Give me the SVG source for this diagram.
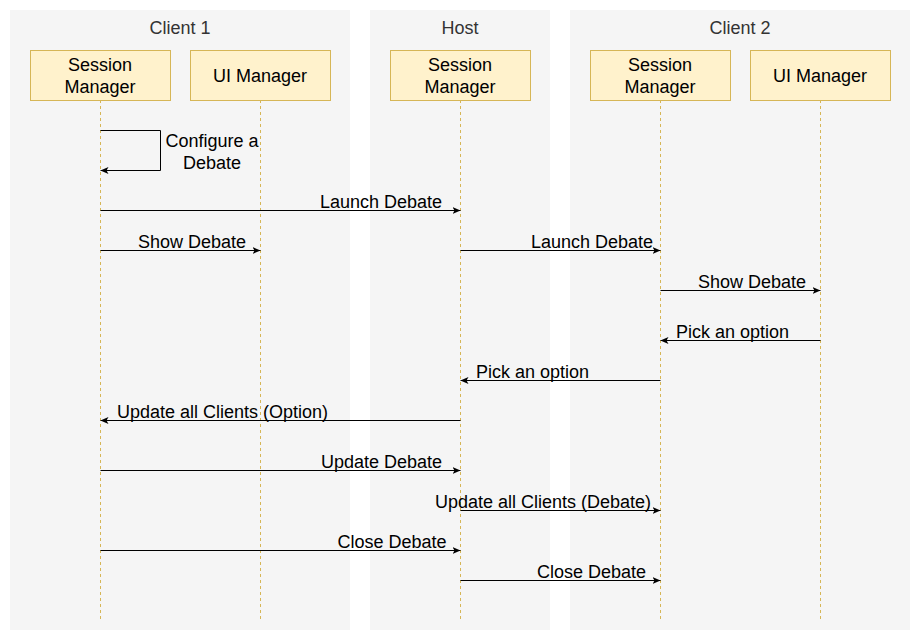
<svg xmlns="http://www.w3.org/2000/svg" width="920" height="640" viewBox="0 0 920 640">
<defs>
<style>
.panel{fill:#f5f5f5;stroke:none}
.title{font-family:"Liberation Sans",Arial,sans-serif;font-size:18px;fill:#333333;text-anchor:middle}
.box{fill:#fff2cc;stroke:#d6b656;stroke-width:1}
.bt{font-family:"Liberation Sans",Arial,sans-serif;font-size:18px;fill:#000000;text-anchor:middle}
.life{stroke:#d6b656;stroke-width:1;stroke-dasharray:3,3;fill:none}
.msg{stroke:#000000;stroke-width:1;fill:none;marker-end:url(#arr)}
.lbl{font-family:"Liberation Sans",Arial,sans-serif;font-size:18px;fill:#000000}
</style>
<marker id="arr" viewBox="0 0 8 8" refX="8" refY="4" markerWidth="8" markerHeight="8" markerUnits="userSpaceOnUse" orient="auto">
<path d="M0,0.5 L8,4 L0,7.5 L2,4 Z" fill="#000000"/>
</marker>
</defs>
<rect width="920" height="640" fill="#ffffff"/>
<g id="panel-client1"><rect class="panel" x="10" y="10" width="340" height="620"/><text class="title" x="180" y="34">Client 1</text></g>
<g id="panel-host"><rect class="panel" x="370" y="10" width="180" height="620"/><text class="title" x="460" y="34">Host</text></g>
<g id="panel-client2"><rect class="panel" x="570" y="10" width="340" height="620"/><text class="title" x="740" y="34">Client 2</text></g>
<g id="c1-session">
<line class="life" x1="100.5" y1="100" x2="100.5" y2="620"/>
<rect class="box" x="30.5" y="50.5" width="140" height="50"/>
<text class="bt" x="100" y="71">Session</text><text class="bt" x="100" y="93">Manager</text>
</g>
<g id="c1-ui">
<line class="life" x1="260.5" y1="100" x2="260.5" y2="620"/>
<rect class="box" x="190.5" y="50.5" width="140" height="50"/>
<text class="bt" x="260" y="82">UI Manager</text>
</g>
<g id="host-session">
<line class="life" x1="460.5" y1="100" x2="460.5" y2="620"/>
<rect class="box" x="390.5" y="50.5" width="140" height="50"/>
<text class="bt" x="460" y="71">Session</text><text class="bt" x="460" y="93">Manager</text>
</g>
<g id="c2-session">
<line class="life" x1="660.5" y1="100" x2="660.5" y2="620"/>
<rect class="box" x="590.5" y="50.5" width="140" height="50"/>
<text class="bt" x="660" y="71">Session</text><text class="bt" x="660" y="93">Manager</text>
</g>
<g id="c2-ui">
<line class="life" x1="820.5" y1="100" x2="820.5" y2="620"/>
<rect class="box" x="750.5" y="50.5" width="140" height="50"/>
<text class="bt" x="820" y="82">UI Manager</text>
</g>
<g id="connectors">
<path class="msg" d="M100.5,130.5 L160.5,130.5 L160.5,170.5 L100.5,170.5"/>
<text class="lbl" x="212" y="147" text-anchor="middle">Configure a</text>
<text class="lbl" x="212" y="169" text-anchor="middle">Debate</text>
<line class="msg" x1="100.5" y1="210.5" x2="460.5" y2="210.5"/>
<text class="lbl" x="442" y="207.5" text-anchor="end">Launch Debate</text>
<line class="msg" x1="100.5" y1="250.5" x2="260.5" y2="250.5"/>
<text class="lbl" x="138" y="247.5">Show Debate</text>
<line class="msg" x1="460.5" y1="250.5" x2="660.5" y2="250.5"/>
<text class="lbl" x="531" y="247.5">Launch Debate</text>
<line class="msg" x1="660.5" y1="290.5" x2="820.5" y2="290.5"/>
<text class="lbl" x="698" y="287.5">Show Debate</text>
<line class="msg" x1="820.5" y1="340.5" x2="660.5" y2="340.5"/>
<text class="lbl" x="676" y="337.5">Pick an option</text>
<line class="msg" x1="660.5" y1="380.5" x2="460.5" y2="380.5"/>
<text class="lbl" x="476" y="377.5">Pick an option</text>
<line class="msg" x1="460.5" y1="420.5" x2="100.5" y2="420.5"/>
<text class="lbl" x="117" y="417.5">Update all Clients (Option)</text>
<line class="msg" x1="100.5" y1="470.5" x2="460.5" y2="470.5"/>
<text class="lbl" x="442" y="467.5" text-anchor="end">Update Debate</text>
<line class="msg" x1="460.5" y1="510.5" x2="660.5" y2="510.5"/>
<text class="lbl" x="435" y="507.5">Update all Clients (Debate)</text>
<line class="msg" x1="100.5" y1="550.5" x2="460.5" y2="550.5"/>
<text class="lbl" x="446.5" y="547.5" text-anchor="end">Close Debate</text>
<line class="msg" x1="460.5" y1="580.5" x2="660.5" y2="580.5"/>
<text class="lbl" x="646" y="577.5" text-anchor="end">Close Debate</text>
</g>
</svg>
